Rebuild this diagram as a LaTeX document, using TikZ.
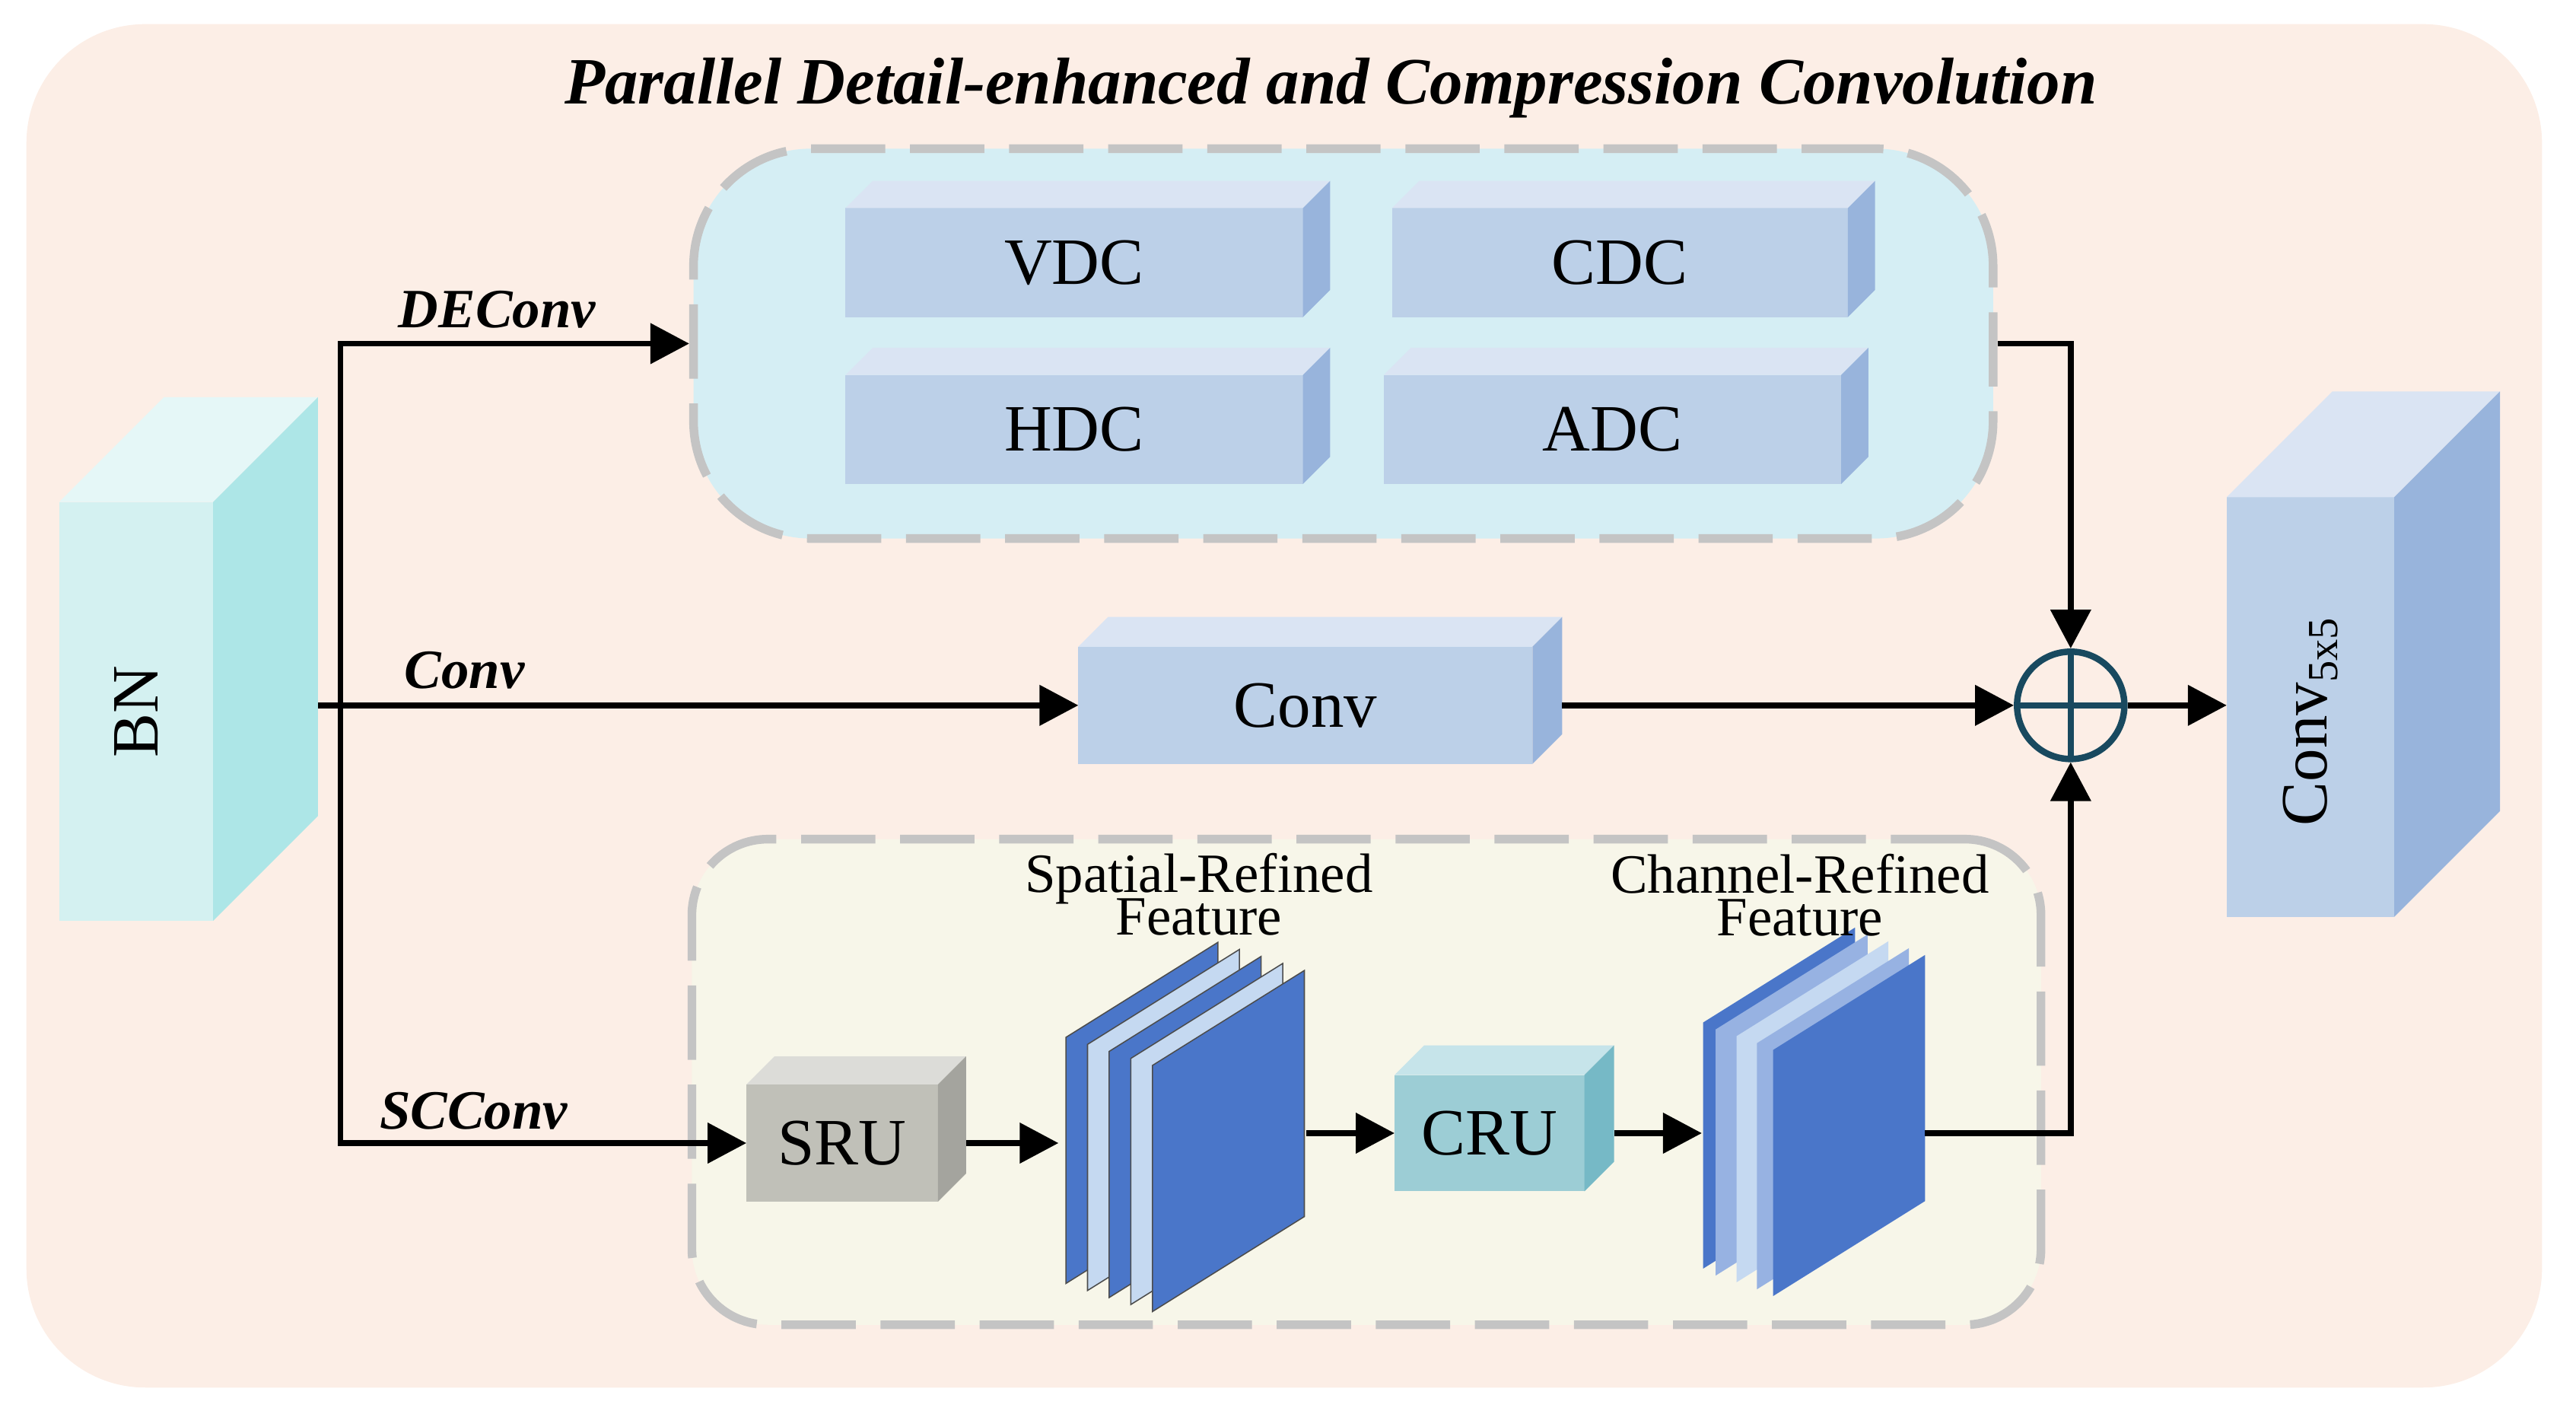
\documentclass[tikz,border=0pt]{standalone}
\usepackage{fontspec}
\usepackage{graphicx}
\setmainfont{Liberation Serif}
\usetikzlibrary{arrows.meta, positioning, calc}
\definecolor{bgpeach}{HTML}{FCEEE6}
\definecolor{decfill}{HTML}{D5EEF4}
\definecolor{sccfill}{HTML}{F7F6E9}
\definecolor{dashgray}{HTML}{C4C4C4}
\definecolor{sumteal}{RGB}{24,73,95}
\definecolor{bnF}{RGB}{212,241,241}
\definecolor{bnT}{RGB}{229,247,247}
\definecolor{bnS}{RGB}{173,230,231}
\definecolor{bluF}{RGB}{188,208,232}
\definecolor{bluT}{RGB}{218,228,243}
\definecolor{bluS}{RGB}{152,180,220}
\definecolor{sruF}{RGB}{192,192,184}
\definecolor{sruT}{RGB}{220,220,216}
\definecolor{sruS}{RGB}{164,164,158}
\definecolor{cruF}{RGB}{156,205,213}
\definecolor{cruT}{RGB}{198,228,234}
\definecolor{cruS}{RGB}{118,185,198}
\definecolor{mapdark}{RGB}{74,118,201}
\definecolor{mapmid}{RGB}{151,178,226}
\definecolor{maplight}{RGB}{197,217,241}

\newcommand{\bigfont}{\fontsize{22.8}{27}\selectfont}
\newcommand{\labfont}{\fontsize{19.1}{14.5}\selectfont\lineskiplimit=-20pt}

\newcommand{\cube}[7]{%
    \node[box, fill=#6F, minimum width=#3*0.02cm, minimum height=#4*0.02cm] (#1) at #2 {#7};
    \fill[#6T] (#1.north west) -- ++(#5,-#5) -- ([shift={(#5,-#5)}]#1.north east) -- (#1.north east) -- cycle;
    \fill[#6S] (#1.north east) -- ++(#5,-#5) -- ([shift={(#5,-#5)}]#1.south east) -- (#1.south east) -- cycle;
}
\newcommand{\fmap}[4]{%
    \filldraw[fill=#3, draw=#4, line width=0.4pt] (#1,#2) -- ++(92,-57.5) -- ++(0,149) -- ++(-92,57.5) -- cycle;
}

\begin{document}
\begin{tikzpicture}[x=0.02cm, y=-0.02cm,
    arr/.style={-{Triangle[length=0.47cm,width=0.48cm]}, line width=0.068cm},
    region/.style={draw=dashgray, line width=0.105cm, dash pattern=on 0.9cm off 0.3cm, inner sep=0pt},
    box/.style={inner sep=0pt, outer sep=0pt, font=\bigfont},
    tag/.style={font=\labfont\bfseries\itshape, inner sep=0pt, anchor=base west},
    feat/.style={font=\labfont, align=center, anchor=south, inner sep=0pt},
    sum/.style={circle, draw=sumteal, line width=0.078cm, minimum size=1.3cm, inner sep=0pt,
        path picture={\draw[sumteal, line width=0.078cm] (path picture bounding box.north) -- (path picture bounding box.south)
            (path picture bounding box.west) -- (path picture bounding box.east);}}]
    \useasboundingbox (0,0) rectangle (1560,856);
    \fill[bgpeach, rounded corners=1.44cm] (16,14.6) rectangle (1539.4,840);

    \node[font=\bigfont\bfseries\itshape, anchor=base, inner sep=0pt] (title) at (806,62.7)
        {Parallel Detail-enhanced and Compression Convolution};

    \node[region, fill=decfill, rounded corners=1.42cm, minimum width=787*0.02cm, minimum height=236*0.02cm] (dec) at (813.5,208) {};
    \node[region, fill=sccfill, rounded corners=0.92cm, minimum width=817*0.02cm, minimum height=294*0.02cm] (scc) at (827.5,655) {};

    \cube{bn}{(82.4,430.7)}{93.3}{253.5}{63.5}{bn}{\rotatebox{90}{BN}}
    \cube{c5}{(1399.2,428)}{101.5}{254}{64}{blu}{\rotatebox{90}{Conv\raisebox{-0.15em}{\fontsize{14.8}{15}\selectfont 5x5}\hspace{0.36cm}}}
    \cube{vdc}{(650.5,159)}{277}{66}{16.5}{blu}{VDC}
    \cube{cdc}{(981,159)}{276}{66}{16.5}{blu}{CDC}
    \cube{hdc}{(650.5,260)}{277}{66}{16.5}{blu}{HDC}
    \cube{adc}{(976.5,260)}{277}{66}{16.5}{blu}{ADC}
    \cube{conv}{(790.5,427)}{275}{71}{18}{blu}{Conv}
    \cube{sru}{(510,692)}{116}{71}{17}{sru}{SRU}
    \cube{cru}{(902,686)}{115}{70.4}{18}{cru}{CRU}

    \foreach \i/\c in {0/mapdark, 1/maplight, 2/mapdark, 3/maplight, 4/mapdark}
        \fmap{645.5+13.1*\i}{628+4.25*\i}{\c}{black!70};
    \foreach \x/\y/\c in {1031.4/619/mapdark, 1039/623.2/mapmid, 1051.6/627.3/maplight, 1064/631.5/mapmid, 1073.8/635.6/mapdark}
        \fmap{\x}{\y}{\c}{none};

    \node[sum] (sum) at (1254,427) {};

    \coordinate (split) at (206.3,427);
    \coordinate (bnout) at ($(bn.east |- split)+(63.5,0)$);
    \coordinate (sruout) at ($(sru.east)+(17,0)$);
    \coordinate (sfin) at (641,692);
    \coordinate (sfout) at (791,686);
    \coordinate (cruout) at ($(cru.east)+(18,0)$);
    \coordinate (cfin) at (1030.6,686);
    \coordinate (cfout) at (1165.8,686);

    \draw[arr] (bnout) -- (conv.west);
    \draw[arr] (split) |- (dec.west);
    \draw[arr] (split) |- (sru.west);
    \draw[arr] (sruout) -- (sfin);
    \draw[arr] (sfout) -- (cru.west);
    \draw[arr] (cruout) -- (cfin);
    \draw[arr] (dec.east) -| (sum.north);
    \draw[arr] ($(conv.east)+(18,0)$) -- (sum.west);
    \draw[arr] (cfout) -| (sum.south);
    \draw[arr] (sum.east) -- (sum.east -| c5.west);

    \node[tag] (tagde) at (241,198.2) {DEConv};
    \node[tag] (tagconv) at (244.6,416.5) {Conv};
    \node[tag] (tagsc) at (229.6,683.3) {SCConv};
    \node[feat] (sflab) at (726,566.5) {Spatial-Refined\\Feature};
    \node[feat] (cflab) at (1090,567) {Channel-Refined\\Feature};
\end{tikzpicture}
\end{document}
